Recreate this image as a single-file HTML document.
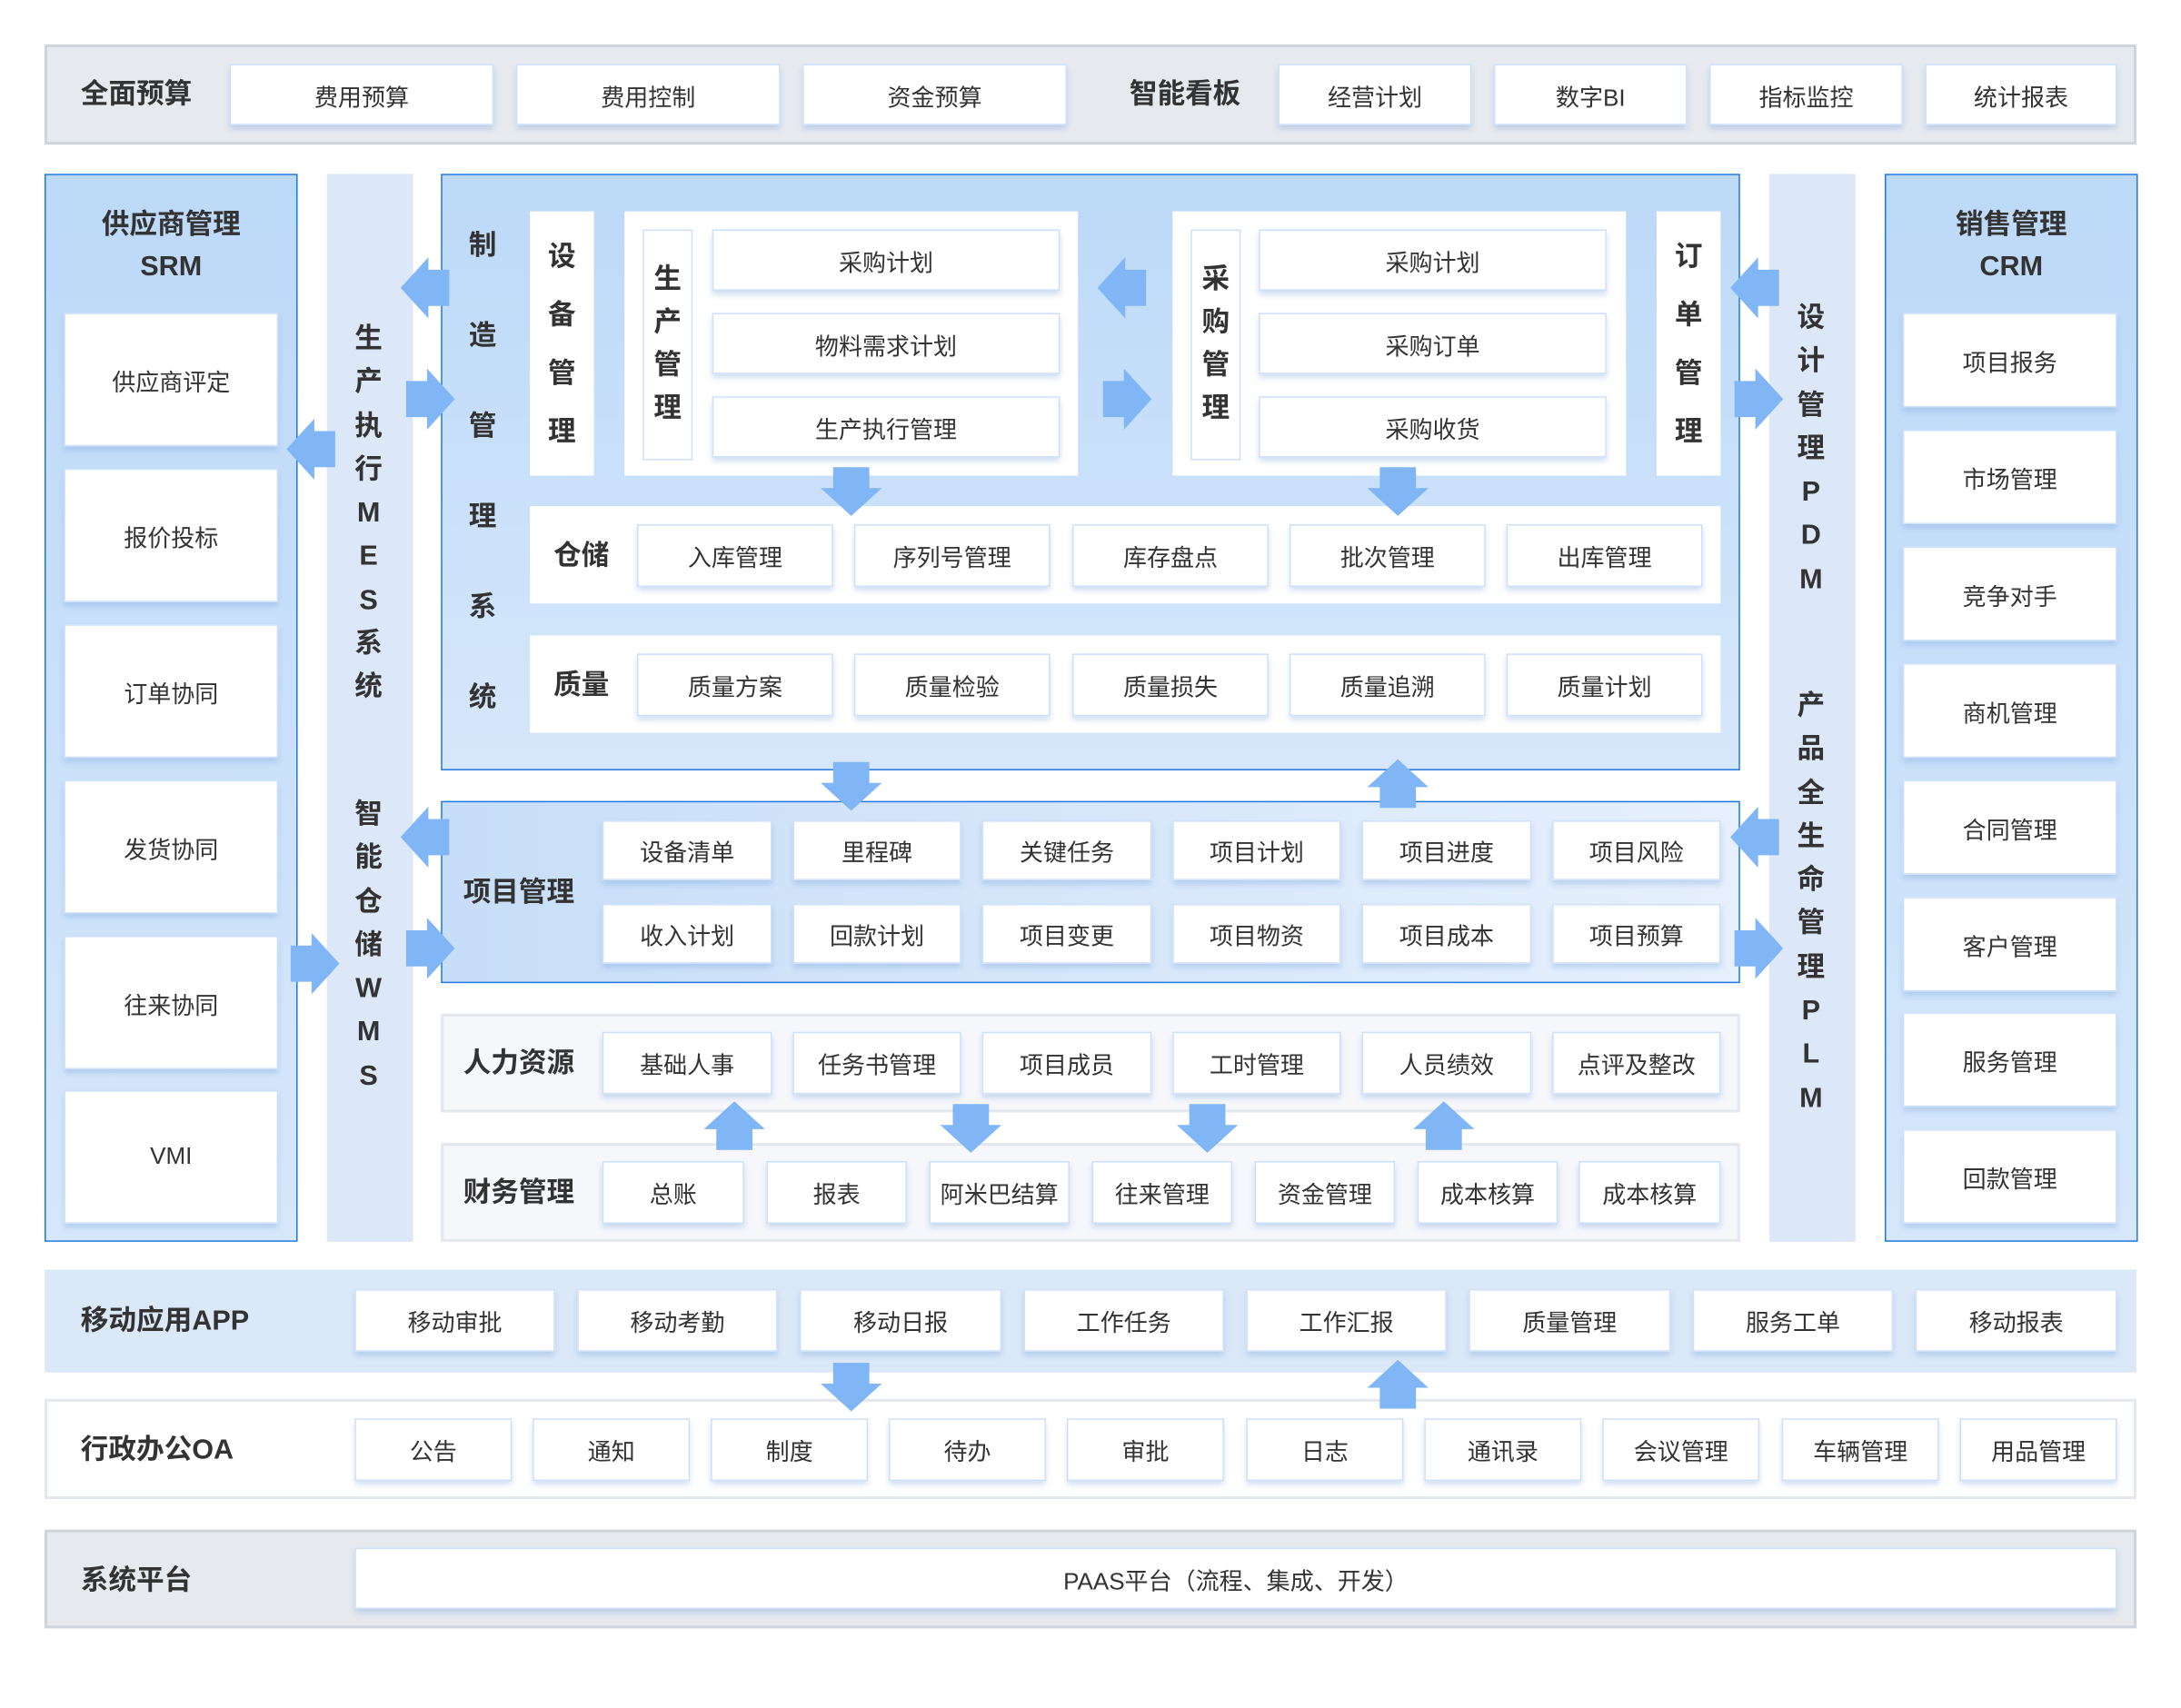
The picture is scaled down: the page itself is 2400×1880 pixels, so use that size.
<!DOCTYPE html>
<html><head><meta charset="utf-8"><style>
*{margin:0;padding:0}
html,body{width:2400px;height:1880px;overflow:hidden;background:#fff}
#w{position:absolute;left:0;top:0;width:1568px;height:1228px;transform:scale(1.5306);transform-origin:0 0;font-family:"Liberation Sans","Noto Sans CJK SC",sans-serif;color:#333}
#w div{position:absolute;box-sizing:border-box}
.b{background:#fff;border:1px solid #cde0fa;box-shadow:0 3px 4px rgba(90,140,210,.28);display:flex;align-items:center;justify-content:center;font-size:17px;color:#333}
.t{font-weight:bold;font-size:20px;color:#333;white-space:nowrap;line-height:24px}
.v{font-weight:bold;font-size:20px;color:#333;text-align:center;width:30px}
.pan{background:linear-gradient(#bcd9f8,#d6e7fb);border:1.5px solid #1f78e0}
.col{background:#dce8f8}
</style></head><body><div id="w">

<!-- top bar -->
<div style="left:32px;top:32px;width:1504px;height:72px;background:#e6eaef;border:2px solid #cfd5dc"></div>
<div class="t" style="left:58px;top:56px">全面预算</div>
<div class="b" style="left:165px;top:46px;width:190px;height:44px">费用预算</div>
<div class="b" style="left:371px;top:46px;width:190px;height:44px">费用控制</div>
<div class="b" style="left:577px;top:46px;width:190px;height:44px">资金预算</div>
<div class="t" style="left:812px;top:56px">智能看板</div>
<div class="b" style="left:919px;top:46px;width:139px;height:44px">经营计划</div>
<div class="b" style="left:1074px;top:46px;width:139px;height:44px">数字BI</div>
<div class="b" style="left:1229px;top:46px;width:139px;height:44px">指标监控</div>
<div class="b" style="left:1384px;top:46px;width:138px;height:44px">统计报表</div>

<!-- SRM -->
<div class="pan" style="left:32px;top:125px;width:182px;height:768px"></div>
<div class="t" style="left:32px;top:147px;width:182px;text-align:center;line-height:30px">供应商管理<br>SRM</div>
<div class="b" style="left:46px;top:225px;width:154px;height:96px">供应商评定</div>
<div class="b" style="left:46px;top:337px;width:154px;height:96px">报价投标</div>
<div class="b" style="left:46px;top:449px;width:154px;height:96px">订单协同</div>
<div class="b" style="left:46px;top:561px;width:154px;height:96px">发货协同</div>
<div class="b" style="left:46px;top:673px;width:154px;height:96px">往来协同</div>
<div class="b" style="left:46px;top:784px;width:154px;height:96px">VMI</div>

<!-- MES col -->
<div class="col" style="left:235px;top:125px;width:62px;height:768px"></div>
<div class="v" style="left:250px;top:229px;line-height:31.3px">生<br>产<br>执<br>行<br>M<br>E<br>S<br>系<br>统</div>
<div class="v" style="left:250px;top:571px;line-height:31.3px">智<br>能<br>仓<br>储<br>W<br>M<br>S</div>

<!-- Manufacturing -->
<div class="pan" style="left:317px;top:125px;width:934px;height:429px"></div>
<div class="v" style="left:332px;top:145px;line-height:65px">制<br>造<br>管<br>理<br>系<br>统</div>
<div style="left:381px;top:152px;width:46px;height:190px;background:#fff"></div>
<div class="v" style="left:389px;top:164px;line-height:42px">设<br>备<br>管<br>理</div>
<div style="left:449px;top:152px;width:326px;height:190px;background:#fff"></div>
<div style="left:462px;top:165px;width:36px;height:166px;border:1px solid #cde0fa"></div>
<div class="v" style="left:465px;top:186px;line-height:31px">生<br>产<br>管<br>理</div>
<div class="b" style="left:512px;top:165px;width:250px;height:44px">采购计划</div>
<div class="b" style="left:512px;top:225px;width:250px;height:44px">物料需求计划</div>
<div class="b" style="left:512px;top:285px;width:250px;height:44px">生产执行管理</div>
<div style="left:843px;top:152px;width:326px;height:190px;background:#fff"></div>
<div style="left:856px;top:165px;width:36px;height:166px;border:1px solid #cde0fa"></div>
<div class="v" style="left:859px;top:186px;line-height:31px">采<br>购<br>管<br>理</div>
<div class="b" style="left:905px;top:165px;width:250px;height:44px">采购计划</div>
<div class="b" style="left:905px;top:225px;width:250px;height:44px">采购订单</div>
<div class="b" style="left:905px;top:285px;width:250px;height:44px">采购收货</div>
<div style="left:1191px;top:152px;width:46px;height:190px;background:#fff"></div>
<div class="v" style="left:1199px;top:164px;line-height:42px">订<br>单<br>管<br>理</div>

<div style="left:381px;top:364px;width:856px;height:70px;background:#fff"></div>
<div class="t" style="left:398px;top:388px">仓储</div>
<div class="b" style="left:458px;top:377px;width:141px;height:45px">入库管理</div>
<div class="b" style="left:614px;top:377px;width:141px;height:45px">序列号管理</div>
<div class="b" style="left:771px;top:377px;width:141px;height:45px">库存盘点</div>
<div class="b" style="left:927px;top:377px;width:141px;height:45px">批次管理</div>
<div class="b" style="left:1083px;top:377px;width:141px;height:45px">出库管理</div>

<div style="left:381px;top:457px;width:856px;height:70px;background:#fff"></div>
<div class="t" style="left:398px;top:481px">质量</div>
<div class="b" style="left:458px;top:470px;width:141px;height:45px">质量方案</div>
<div class="b" style="left:614px;top:470px;width:141px;height:45px">质量检验</div>
<div class="b" style="left:771px;top:470px;width:141px;height:45px">质量损失</div>
<div class="b" style="left:927px;top:470px;width:141px;height:45px">质量追溯</div>
<div class="b" style="left:1083px;top:470px;width:141px;height:45px">质量计划</div>

<!-- Project -->
<div style="left:317px;top:576px;width:934px;height:131px;background:linear-gradient(90deg,#c7def8,#e6f0fc);border:1.5px solid #1f78e0"></div>
<div class="t" style="left:333px;top:630px">项目管理</div>
<div class="b" style="left:433px;top:590px;width:122px;height:43px">设备清单</div>
<div class="b" style="left:570px;top:590px;width:121px;height:43px">里程碑</div>
<div class="b" style="left:706px;top:590px;width:122px;height:43px">关键任务</div>
<div class="b" style="left:843px;top:590px;width:121px;height:43px">项目计划</div>
<div class="b" style="left:979px;top:590px;width:122px;height:43px">项目进度</div>
<div class="b" style="left:1116px;top:590px;width:121px;height:43px">项目风险</div>
<div class="b" style="left:433px;top:650px;width:122px;height:43px">收入计划</div>
<div class="b" style="left:570px;top:650px;width:121px;height:43px">回款计划</div>
<div class="b" style="left:706px;top:650px;width:122px;height:43px">项目变更</div>
<div class="b" style="left:843px;top:650px;width:121px;height:43px">项目物资</div>
<div class="b" style="left:979px;top:650px;width:122px;height:43px">项目成本</div>
<div class="b" style="left:1116px;top:650px;width:121px;height:43px">项目预算</div>

<!-- HR -->
<div style="left:317px;top:729px;width:934px;height:71px;background:#f5f7fb;border:2px solid #e3e7ee"></div>
<div class="t" style="left:333px;top:753px">人力资源</div>
<div class="b" style="left:433px;top:742px;width:122px;height:45px">基础人事</div>
<div class="b" style="left:570px;top:742px;width:121px;height:45px">任务书管理</div>
<div class="b" style="left:706px;top:742px;width:122px;height:45px">项目成员</div>
<div class="b" style="left:843px;top:742px;width:121px;height:45px">工时管理</div>
<div class="b" style="left:979px;top:742px;width:122px;height:45px">人员绩效</div>
<div class="b" style="left:1116px;top:742px;width:121px;height:45px">点评及整改</div>

<!-- Finance -->
<div style="left:317px;top:822px;width:934px;height:71px;background:#f5f7fb;border:2px solid #e3e7ee"></div>
<div class="t" style="left:333px;top:846px">财务管理</div>
<div class="b" style="left:433px;top:835px;width:102px;height:45px">总账</div>
<div class="b" style="left:551px;top:835px;width:101px;height:45px">报表</div>
<div class="b" style="left:668px;top:835px;width:101px;height:45px">阿米巴结算</div>
<div class="b" style="left:785px;top:835px;width:101px;height:45px">往来管理</div>
<div class="b" style="left:902px;top:835px;width:101px;height:45px">资金管理</div>
<div class="b" style="left:1019px;top:835px;width:101px;height:45px">成本核算</div>
<div class="b" style="left:1135px;top:835px;width:102px;height:45px">成本核算</div>

<!-- PDM col -->
<div class="col" style="left:1272px;top:125px;width:62px;height:768px"></div>
<div class="v" style="left:1287px;top:214px;line-height:31.3px">设<br>计<br>管<br>理<br>P<br>D<br>M</div>
<div class="v" style="left:1287px;top:493px;line-height:31.3px">产<br>品<br>全<br>生<br>命<br>管<br>理<br>P<br>L<br>M</div>

<!-- CRM -->
<div class="pan" style="left:1355px;top:125px;width:182px;height:768px"></div>
<div class="t" style="left:1355px;top:147px;width:182px;text-align:center;line-height:30px">销售管理<br>CRM</div>
<div class="b" style="left:1368px;top:225px;width:154px;height:68px">项目报务</div>
<div class="b" style="left:1368px;top:309px;width:154px;height:68px">市场管理</div>
<div class="b" style="left:1368px;top:393px;width:154px;height:68px">竞争对手</div>
<div class="b" style="left:1368px;top:477px;width:154px;height:68px">商机管理</div>
<div class="b" style="left:1368px;top:561px;width:154px;height:68px">合同管理</div>
<div class="b" style="left:1368px;top:645px;width:154px;height:68px">客户管理</div>
<div class="b" style="left:1368px;top:728px;width:154px;height:68px">服务管理</div>
<div class="b" style="left:1368px;top:812px;width:154px;height:68px">回款管理</div>

<!-- Mobile -->
<div style="left:32px;top:913px;width:1504px;height:74px;background:#dbe8f8"></div>
<div class="t" style="left:58px;top:938px">移动应用APP</div>
<div class="b" style="left:255px;top:927px;width:144px;height:45px">移动审批</div>
<div class="b" style="left:415px;top:927px;width:144px;height:45px">移动考勤</div>
<div class="b" style="left:575px;top:927px;width:145px;height:45px">移动日报</div>
<div class="b" style="left:736px;top:927px;width:144px;height:45px">工作任务</div>
<div class="b" style="left:896px;top:927px;width:144px;height:45px">工作汇报</div>
<div class="b" style="left:1056px;top:927px;width:145px;height:45px">质量管理</div>
<div class="b" style="left:1217px;top:927px;width:144px;height:45px">服务工单</div>
<div class="b" style="left:1377px;top:927px;width:145px;height:45px">移动报表</div>

<!-- OA -->
<div style="left:32px;top:1006px;width:1504px;height:72px;background:#fff;border:2px solid #e3e7ee"></div>
<div class="t" style="left:58px;top:1031px">行政办公OA</div>
<div class="b" style="left:255px;top:1020px;width:113px;height:45px">公告</div>
<div class="b" style="left:383px;top:1020px;width:113px;height:45px">通知</div>
<div class="b" style="left:511px;top:1020px;width:113px;height:45px">制度</div>
<div class="b" style="left:639px;top:1020px;width:113px;height:45px">待办</div>
<div class="b" style="left:767px;top:1020px;width:113px;height:45px">审批</div>
<div class="b" style="left:896px;top:1020px;width:113px;height:45px">日志</div>
<div class="b" style="left:1024px;top:1020px;width:113px;height:45px">通讯录</div>
<div class="b" style="left:1152px;top:1020px;width:113px;height:45px">会议管理</div>
<div class="b" style="left:1281px;top:1020px;width:113px;height:45px">车辆管理</div>
<div class="b" style="left:1409px;top:1020px;width:113px;height:45px">用品管理</div>

<!-- platform -->
<div style="left:32px;top:1100px;width:1504px;height:71px;background:#e6eaef;border:2px solid #cfd5dc"></div>
<div class="t" style="left:58px;top:1125px">系统平台</div>
<div class="b" style="left:255px;top:1113px;width:1267px;height:44px">PAAS平台（流程、集成、开发）</div>

<!-- arrows -->
<svg style="position:absolute;left:0;top:0" width="1568" height="1228" viewBox="0 0 1568 1228">
<defs>
<polygon id="dn" points="-13,0 13,0 13,15 22,15 0,35 -22,15 -13,15" fill="#80b6f5"/>
<polygon id="up" points="-13,35 13,35 13,20 22,20 0,0 -22,20 -13,20" fill="#80b6f5"/>
<polygon id="lf" points="35,-13 35,13 20,13 20,22 0,0 20,-22 20,-13" fill="#80b6f5"/>
<polygon id="rt" points="0,-13 0,13 15,13 15,22 35,0 15,-22 15,-13" fill="#80b6f5"/>
</defs>
<use href="#dn" x="612" y="336"/>
<use href="#dn" x="1005" y="336"/>
<use href="#dn" x="612" y="548"/>
<use href="#up" x="1005" y="546"/>
<use href="#lf" x="789" y="207"/>
<use href="#rt" x="793" y="287"/>
<use href="#up" x="528" y="792"/>
<use href="#dn" x="698" y="794"/>
<use href="#dn" x="868" y="794"/>
<use href="#up" x="1038" y="792"/>
<use href="#dn" x="612" y="980"/>
<use href="#up" x="1005" y="978"/>
<use href="#lf" x="288" y="207"/>
<use href="#rt" x="292" y="287"/>
<use href="#lf" x="206" y="323"/>
<use href="#lf" x="288" y="602"/>
<use href="#rt" x="292" y="682"/>
<use href="#rt" x="209" y="693"/>
<use href="#lf" x="1244" y="207"/>
<use href="#rt" x="1247" y="287"/>
<use href="#lf" x="1244" y="602"/>
<use href="#rt" x="1247" y="682"/>
</svg>
</div></body></html>
